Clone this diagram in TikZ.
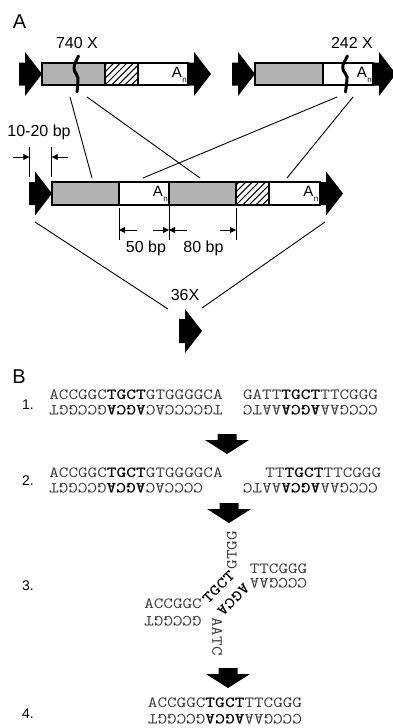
\documentclass[tikz,border=0pt]{standalone}
\usepackage{fontspec}
\setmainfont{Liberation Sans}
\usetikzlibrary{arrows.meta}
% bold microhomology letters
\newcommand\mhom[1]{\textcolor{black}{\bfseries #1}}
% typewriter sequence text, widened to a Courier-like pitch
\newcommand\sq[1]{\scalebox{1.2}[1]{#1}}
% poly(A) tail label
\newcommand\polyA{A\kern0.4pt\raisebox{-5pt}{\fontsize{8}{8}\selectfont n}}
% diagonal hatching inside a rectangle: x0 y0 x1 y1 (y grows downwards)
\newcommand\hatchbox[4]{%
  \begin{scope}
    \clip (#1,#2) rectangle (#3,#4);
    \foreach \k in {-33,-26.4,...,40} \draw[hatchline] (#1+\k,#4) -- (#1+\k+30,#4-30);
  \end{scope}}
\definecolor{segray}{RGB}{178,178,178}
\tikzset{
  blockarrow/.pic={\fill (0,-11.5) -- (6,-11.5) -- (6,-22) -- (23,0) -- (6,22) -- (6,11.5) -- (0,11.5) -- cycle;},
  downarrow/.pic={\fill (-9.5,0) -- (9.5,0) -- (9.5,6) -- (22,6) -- (0,20) -- (-22,6) -- (-9.5,6) -- cycle;},
  lbl/.style={font=\fontsize{16}{19}\selectfont, inner sep=0pt, anchor=base},
  panel/.style={font=\fontsize{20}{23}\selectfont, inner sep=0pt, anchor=base},
  num/.style={font=\fontsize{14}{16}\selectfont, inner sep=0pt, anchor=base west},
  seq/.style={font=\ttfamily\fontsize{15.5}{19}\selectfont, text=black!78, inner sep=0pt},
  tail/.style={font=\fontsize{15}{18}\selectfont, inner sep=0pt, anchor=base east},
  link/.style={line width=0.9pt},
  dim/.style={line width=0.9pt},
  dimarrow/.style={line width=0.9pt, -{Triangle[length=6pt,width=6pt]}},
  outline/.style={line width=1.2pt},
  brk/.style={line width=3pt, line cap=round},
  hatchline/.style={line width=1pt}
}
\begin{document}
\begin{tikzpicture}[x=1pt,y=-1pt]
\useasboundingbox[fill=white] (0,0) rectangle (393,728);

% ---------------- Part A ----------------
\node[panel] (lblA) at (19.5,28.5) {A};

% element with 740 copies
\fill[segray] (42,63) rectangle (105,85);
\hatchbox{105}{63}{138}{85}
\draw[outline] (42,63) rectangle (188,85) (105,63) -- (105,85) (138,63) -- (138,85);
\pic at (19,74) {blockarrow};
\pic at (188,74) {blockarrow};
\node[tail] (tailA1) at (187,77.9) {\polyA};
\draw[brk] plot[smooth] coordinates {(78.5,56) (74.5,65) (74.5,71) (78,78) (77,92)};
\node[lbl] (cp1) at (77,48.7) {740 X};

% element with 242 copies
\fill[segray] (255,63) rectangle (323,85);
\draw[outline] (255,63) rectangle (373,85) (323,63) -- (323,85);
\pic at (232,74) {blockarrow};
\pic at (373,74) {blockarrow};
\node[tail] (tailA2) at (372,77.9) {\polyA};
\draw[brk] plot[smooth] coordinates {(347.5,56) (343,65) (343.5,71) (347,77) (345.5,92)};
\node[lbl] (cp2) at (352,48.7) {242 X};

% composite element
\fill[segray] (52,182) rectangle (119,205) (169,182) rectangle (236,205);
\hatchbox{236}{182}{269}{205}
\draw[outline] (52,182) rectangle (320,205) (119,182) -- (119,205) (169,182) -- (169,205)
  (236,182) -- (236,205) (269,182) -- (269,205);
\pic at (29,193.5) {blockarrow};
\pic at (320,193.5) {blockarrow};
\node[tail] (tailM1) at (168,196.9) {\polyA};
\node[tail] (tailM2) at (318.5,196.9) {\polyA};

% small element with 36 copies
\begin{scope}[shift={(179,331)}]
  \fill (0,-12) -- (6,-12) -- (6,-22) -- (23,0) -- (6,22) -- (6,12) -- (0,12) -- cycle;
\end{scope}
\node[lbl] (cp3) at (185,300.7) {36X};

% end points of the connecting lines
\coordinate (t1a) at (70,97);
\coordinate (t1b) at (87,97);
\coordinate (t2a) at (337,97);
\coordinate (t2b) at (353,97);
\coordinate (m1) at (92,178);
\coordinate (m2) at (200,178);
\coordinate (m3) at (143,178);
\coordinate (m4) at (287,178);
\coordinate (mb1) at (35,222);
\coordinate (mb2) at (325,222);
\coordinate (s1) at (168,309);
\coordinate (s2) at (202,308);
\draw[link] (t1a) -- (m1) (t1b) -- (m2) (t2a) -- (m3) (t2b) -- (m4)
  (mb1) -- (s1) (mb2) -- (s2);

% 10-20 bp spacing
\draw[dim] (29.3,147) -- (29.3,177) (51.7,147) -- (51.7,177);
\draw[dimarrow] (13,157) -- (29.3,157);
\draw[dimarrow] (68,157) -- (51.7,157);
\node[lbl] (gap) at (39,136.7) {10-20 bp};

% 50 bp / 80 bp spacing
\draw[dim] (119,208) -- (119,240) (169,205) -- (169,240) (236,208) -- (236,240);
\draw[dimarrow] (137,230) -- (119,230);
\draw[dimarrow] (153,230) -- (169,230);
\draw[dimarrow] (187,230) -- (169,230);
\draw[dimarrow] (220,230) -- (236,230);
\node[lbl] (d50) at (146,252.7) {50 bp};
\node[lbl] (d80) at (203.5,252.7) {80 bp};

% ---------------- Part B ----------------
\node[panel] (lblB) at (19,383) {B};
\node[num] (n1) at (22,409.5) {1.};
\node[num] (n2) at (22,485) {2.};
\node[num] (n3) at (22,590) {3.};
\node[num] (n4) at (22,718) {4.};

% step 1
\node[seq] (s1lt) at (136,395) {\sq{ACCGGC\mhom{TGCT}GTGGGGCA}};
\node[seq,rotate=180] (s1lb) at (136,410.5) {\sq{TGCCCCAC\mhom{AGCA}GCCGGT}};
\node[seq] (s1rt) at (310.5,395) {\sq{GATT\mhom{TGCT}TTCGGG}};
\node[seq,rotate=180] (s1rb) at (310.5,410.5) {\sq{CCCGAA\mhom{AGCA}AATC}};
\pic at (227,434) {downarrow};

% step 2
\node[seq] (s2lt) at (136,473) {\sq{ACCGGC\mhom{TGCT}GTGGGGCA}};
\node[seq,rotate=180] (s2lb) at (126.2,488.5) {\sq{CCCCAC\mhom{AGCA}GCCGGT}};
\node[seq] (s2rt) at (323.3,473) {\sq{TT\mhom{TGCT}TTCGGG}};
\node[seq,rotate=180] (s2rb) at (310.5,488.5) {\sq{CCCGAA\mhom{AGCA}AATC}};
\pic at (229,503) {downarrow};

% step 3: annealed junction
\node[seq] (s3lt) at (173,603.5) {\sq{ACCGGC}};
\node[seq,rotate=180] (s3lb) at (173,621.5) {\sq{GCCGGT}};
\node[seq] (s3rt) at (278.5,568.5) {\sq{TTCGGG}};
\node[seq,rotate=180] (s3rb) at (278.5,583.5) {\sq{CCCGAA}};
\node[seq,rotate=45] (s3mt) at (218.5,587) {\sq{\mhom{TGCT}}};
\node[seq,rotate=225] (s3mb) at (233.5,600) {\sq{\mhom{AGCA}}};
\node[seq,rotate=90] (s3up) at (232,550) {\sq{GTGG}};
\node[seq,rotate=-90] (s3dn) at (217,636.5) {\sq{AATC}};
\pic at (228,668) {downarrow};

% step 4
\node[seq] (s4t) at (225,702.5) {\sq{ACCGGC\mhom{TGCT}TTCGGG}};
\node[seq,rotate=180] (s4b) at (225,719.5) {\sq{CCCGAA\mhom{AGCA}GCCGGT}};
\end{tikzpicture}
\end{document}
